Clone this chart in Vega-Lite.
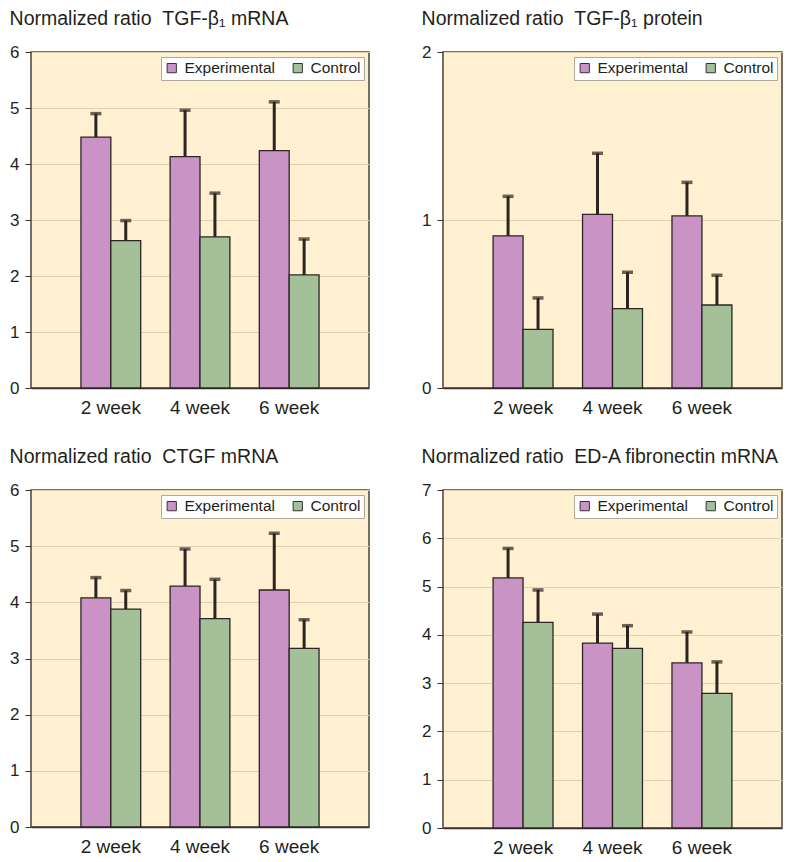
{
  "$schema": "https://vega.github.io/schema/vega-lite/v6.json",
  "background": "white",
  "padding": {"left": 8, "top": 7, "right": 5, "bottom": 5},
  "datasets": {
    "bars": [
      {"panel": "A", "week": "2 week", "group": "Experimental", "value": 4.48, "upper": 4.90},
      {"panel": "A", "week": "2 week", "group": "Control", "value": 2.63, "upper": 2.99},
      {"panel": "A", "week": "4 week", "group": "Experimental", "value": 4.13, "upper": 4.96},
      {"panel": "A", "week": "4 week", "group": "Control", "value": 2.70, "upper": 3.48},
      {"panel": "A", "week": "6 week", "group": "Experimental", "value": 4.24, "upper": 5.11},
      {"panel": "A", "week": "6 week", "group": "Control", "value": 2.02, "upper": 2.66},
      {"panel": "B", "week": "2 week", "group": "Experimental", "value": 0.906, "upper": 1.141},
      {"panel": "B", "week": "2 week", "group": "Control", "value": 0.349, "upper": 0.536},
      {"panel": "B", "week": "4 week", "group": "Experimental", "value": 1.034, "upper": 1.397},
      {"panel": "B", "week": "4 week", "group": "Control", "value": 0.472, "upper": 0.689},
      {"panel": "B", "week": "6 week", "group": "Experimental", "value": 1.024, "upper": 1.224},
      {"panel": "B", "week": "6 week", "group": "Control", "value": 0.494, "upper": 0.671},
      {"panel": "C", "week": "2 week", "group": "Experimental", "value": 4.08, "upper": 4.44},
      {"panel": "C", "week": "2 week", "group": "Control", "value": 3.88, "upper": 4.21},
      {"panel": "C", "week": "4 week", "group": "Experimental", "value": 4.29, "upper": 4.95},
      {"panel": "C", "week": "4 week", "group": "Control", "value": 3.71, "upper": 4.41},
      {"panel": "C", "week": "6 week", "group": "Experimental", "value": 4.22, "upper": 5.23},
      {"panel": "C", "week": "6 week", "group": "Control", "value": 3.18, "upper": 3.69},
      {"panel": "D", "week": "2 week", "group": "Experimental", "value": 5.18, "upper": 5.79},
      {"panel": "D", "week": "2 week", "group": "Control", "value": 4.26, "upper": 4.93},
      {"panel": "D", "week": "4 week", "group": "Experimental", "value": 3.83, "upper": 4.43},
      {"panel": "D", "week": "4 week", "group": "Control", "value": 3.72, "upper": 4.19},
      {"panel": "D", "week": "6 week", "group": "Experimental", "value": 3.42, "upper": 4.06},
      {"panel": "D", "week": "6 week", "group": "Control", "value": 2.79, "upper": 3.44}
    ]
  },
  "columns": 2,
  "bounds": "flush",
  "spacing": {"column": 74, "row": 102},
  "resolve": {
    "scale": {"x": "independent", "y": "independent", "color": "independent", "xOffset": "independent"},
    "legend": {"color": "independent"},
    "axis": {"x": "independent", "y": "independent"}
  },
  "concat": [
    {
      "width": 338, "height": 336,
      "title": {"text": "Normalized ratio\u00a0\u00a0TGF-β₁ mRNA"},
      "data": {"name": "bars"},
      "transform": [{"filter": "datum.panel === 'A'"}],
      "encoding": {
        "x": {"field": "week", "type": "nominal", "scale": {"paddingInner": 0.33, "paddingOuter": 0.56}, "axis": {"title": null}},
        "xOffset": {"field": "group", "type": "nominal", "scale": {"domain": ["Experimental", "Control"], "paddingInner": 0, "paddingOuter": 0}}
      },
      "layer": [
        {"mark": {"type": "bar", "stroke": "#2b2623", "strokeWidth": 1.3},
         "encoding": {
           "y": {"field": "value", "type": "quantitative", "scale": {"domain": [0, 6]}, "axis": {"title": null, "values": [0, 1, 2, 3, 4, 5, 6], "format": ".0f"}},
           "color": {"field": "group", "type": "nominal", "scale": {"domain": ["Experimental", "Control"], "range": ["#C994C5", "#A4C099"]}, "legend": {"title": null}}
         }},
        {"mark": {"type": "rule", "color": "#2b2420", "strokeWidth": 3},
         "encoding": {"y": {"field": "value", "type": "quantitative"}, "y2": {"field": "upper"}}},
        {"mark": {"type": "tick", "color": "#2b2420", "thickness": 3.5, "size": 11, "orient": "horizontal"},
         "encoding": {"y": {"field": "upper", "type": "quantitative"}}}
      ]
    },
    {
      "width": 339, "height": 336,
      "title": {"text": "Normalized ratio\u00a0\u00a0TGF-β₁ protein"},
      "data": {"name": "bars"},
      "transform": [{"filter": "datum.panel === 'B'"}],
      "encoding": {
        "x": {"field": "week", "type": "nominal", "scale": {"paddingInner": 0.33, "paddingOuter": 0.56}, "axis": {"title": null}},
        "xOffset": {"field": "group", "type": "nominal", "scale": {"domain": ["Experimental", "Control"], "paddingInner": 0, "paddingOuter": 0}}
      },
      "layer": [
        {"mark": {"type": "bar", "stroke": "#2b2623", "strokeWidth": 1.3},
         "encoding": {
           "y": {"field": "value", "type": "quantitative", "scale": {"domain": [0, 2]}, "axis": {"title": null, "values": [0, 1, 2], "format": ".0f"}},
           "color": {"field": "group", "type": "nominal", "scale": {"domain": ["Experimental", "Control"], "range": ["#C994C5", "#A4C099"]}, "legend": {"title": null}}
         }},
        {"mark": {"type": "rule", "color": "#2b2420", "strokeWidth": 3},
         "encoding": {"y": {"field": "value", "type": "quantitative"}, "y2": {"field": "upper"}}},
        {"mark": {"type": "tick", "color": "#2b2420", "thickness": 3.5, "size": 11, "orient": "horizontal"},
         "encoding": {"y": {"field": "upper", "type": "quantitative"}}}
      ]
    },
    {
      "width": 338, "height": 337,
      "title": {"text": "Normalized ratio\u00a0\u00a0CTGF mRNA"},
      "data": {"name": "bars"},
      "transform": [{"filter": "datum.panel === 'C'"}],
      "encoding": {
        "x": {"field": "week", "type": "nominal", "scale": {"paddingInner": 0.33, "paddingOuter": 0.56}, "axis": {"title": null}},
        "xOffset": {"field": "group", "type": "nominal", "scale": {"domain": ["Experimental", "Control"], "paddingInner": 0, "paddingOuter": 0}}
      },
      "layer": [
        {"mark": {"type": "bar", "stroke": "#2b2623", "strokeWidth": 1.3},
         "encoding": {
           "y": {"field": "value", "type": "quantitative", "scale": {"domain": [0, 6]}, "axis": {"title": null, "values": [0, 1, 2, 3, 4, 5, 6], "format": ".0f"}},
           "color": {"field": "group", "type": "nominal", "scale": {"domain": ["Experimental", "Control"], "range": ["#C994C5", "#A4C099"]}, "legend": {"title": null}}
         }},
        {"mark": {"type": "rule", "color": "#2b2420", "strokeWidth": 3},
         "encoding": {"y": {"field": "value", "type": "quantitative"}, "y2": {"field": "upper"}}},
        {"mark": {"type": "tick", "color": "#2b2420", "thickness": 3.5, "size": 11, "orient": "horizontal"},
         "encoding": {"y": {"field": "upper", "type": "quantitative"}}}
      ]
    },
    {
      "width": 339, "height": 338,
      "title": {"text": "Normalized ratio\u00a0\u00a0ED-A fibronectin mRNA"},
      "data": {"name": "bars"},
      "transform": [{"filter": "datum.panel === 'D'"}],
      "encoding": {
        "x": {"field": "week", "type": "nominal", "scale": {"paddingInner": 0.33, "paddingOuter": 0.56}, "axis": {"title": null}},
        "xOffset": {"field": "group", "type": "nominal", "scale": {"domain": ["Experimental", "Control"], "paddingInner": 0, "paddingOuter": 0}}
      },
      "layer": [
        {"mark": {"type": "bar", "stroke": "#2b2623", "strokeWidth": 1.3},
         "encoding": {
           "y": {"field": "value", "type": "quantitative", "scale": {"domain": [0, 7]}, "axis": {"title": null, "values": [0, 1, 2, 3, 4, 5, 6, 7], "format": ".0f"}},
           "color": {"field": "group", "type": "nominal", "scale": {"domain": ["Experimental", "Control"], "range": ["#C994C5", "#A4C099"]}, "legend": {"title": null}}
         }},
        {"mark": {"type": "rule", "color": "#2b2420", "strokeWidth": 3},
         "encoding": {"y": {"field": "value", "type": "quantitative"}, "y2": {"field": "upper"}}},
        {"mark": {"type": "tick", "color": "#2b2420", "thickness": 3.5, "size": 11, "orient": "horizontal"},
         "encoding": {"y": {"field": "upper", "type": "quantitative"}}}
      ]
    }
  ],
  "config": {
    "font": "Liberation Sans",
    "view": {"fill": "#FFF0D1", "stroke": "#4a4238", "strokeWidth": 1.5},
    "title": {"anchor": "start", "frame": "bounds", "fontSize": 19.5, "fontWeight": "normal", "color": "#231f20", "font": "Liberation Sans", "offset": 14},
    "axis": {"labelFont": "Liberation Sans", "labelColor": "#231f20", "domainColor": "#3a332c", "tickColor": "#3a332c"},
    "axisY": {"grid": true, "gridColor": "#E0D1B2", "gridWidth": 1, "domain": false, "ticks": true, "tickSize": 6, "labelFontSize": 17, "labelPadding": 6},
    "axisX": {"grid": false, "ticks": false, "domain": true, "domainWidth": 1.5, "labelAngle": 0, "labelFontSize": 19, "labelPadding": 10},
    "legend": {
      "orient": "top-right", "offset": 5, "direction": "horizontal",
      "fillColor": "white", "strokeColor": "#b0a99e", "padding": 3,
      "symbolType": "square", "symbolSize": 85, "symbolStrokeColor": "#333", "symbolStrokeWidth": 1,
      "labelFontSize": 15.5, "labelFont": "Liberation Sans", "labelColor": "#231f20", "labelOffset": 5,
      "columnPadding": 15
    }
  }
}
